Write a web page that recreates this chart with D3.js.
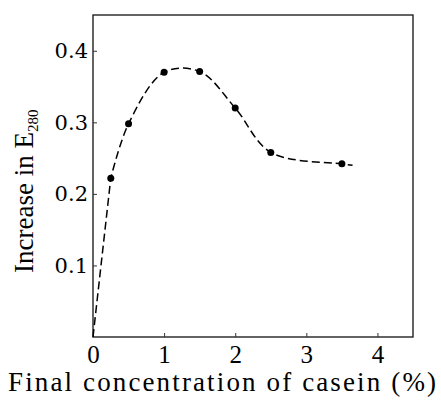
<!DOCTYPE html>
<html><head><meta charset="utf-8">
<script src="https://cdn.jsdelivr.net/npm/d3@7"></script>
<style>body{margin:0;background:#fff}svg{display:block}
.serif{font-family:"Liberation Serif","Times New Roman",serif}
.dserif{font-family:"DejaVu Serif",serif}</style>
</head><body>
<svg id="c" width="441" height="401"></svg>
<script>
// Data
const curveX = [0, 0.25, 0.5, 1.0, 1.5, 2.0, 2.5, 3.5, 3.65];
const curveY = [0, 0.222, 0.298, 0.370, 0.371, 0.320, 0.258, 0.242, 0.240];
const pointX = [0.25, 0.5, 1.0, 1.5, 2.0, 2.5, 3.5];
const pointY = [0.222, 0.298, 0.370, 0.371, 0.320, 0.258, 0.242];
const xTicks = [0, 1, 2, 3, 4];
const yTicks = [0.1, 0.2, 0.3, 0.4];
const yTickLabels = ["0.1", "0.2", "0.3", "0.4"];

const svg = d3.select("#c");
const x = d3.scaleLinear().domain([0, 4.5]).range([93, 413]);
const y = d3.scaleLinear().domain([0, 0.45]).range([337, 15]);

// frame
svg.append("rect").attr("x", 93).attr("y", 15).attr("width", 320).attr("height", 322)
  .attr("fill", "none").attr("stroke", "#222").attr("stroke-width", 1.4);

// axes with inward ticks
const xAxis = d3.axisBottom(x).tickValues(xTicks).tickSize(-4).tickFormat(d3.format("d")).tickPadding(8);
const gx = svg.append("g").attr("transform", "translate(0,337)").call(xAxis);
gx.attr("font-family", null).attr("font-size", null);
gx.select(".domain").remove();
gx.selectAll("line").attr("stroke", "#333");
gx.selectAll("text").attr("class", "serif").style("font-size", "25px")
  .attr("fill", "#000").attr("dy", "0.7em");

const yAxis = d3.axisLeft(y).tickValues(yTicks).tickSize(-4).tickPadding(5)
  .tickFormat((d, i) => yTickLabels[i]);
const gy = svg.append("g").attr("transform", "translate(93,0)").call(yAxis);
gy.attr("font-family", null).attr("font-size", null);
gy.select(".domain").remove();
gy.selectAll("line").attr("stroke", "#333");
gy.selectAll("text").attr("class", "dserif").style("font-size", "21px")
  .attr("fill", "#000");

// curve: straight rise from origin to first point, then smooth
const pts = curveX.map((v, i) => [v, curveY[i]]);
const lin = d3.line().x(d => x(d[0])).y(d => y(d[1]));
const smooth = d3.line().x(d => x(d[0])).y(d => y(d[1])).curve(d3.curveCatmullRom.alpha(0.5));
svg.append("path").attr("d", lin(pts.slice(0, 2)) + smooth(pts.slice(1)).replace(/^M[^A-Za-z]*/, ""))
  .attr("fill", "none").attr("stroke", "#000")
  .attr("stroke-width", 1.5).attr("stroke-dasharray", "8,4");

// points
svg.selectAll("circle.p").data(pointX.map((v, i) => [v, pointY[i]])).join("circle")
  .attr("class", "p").attr("cx", d => x(d[0])).attr("cy", d => y(d[1])).attr("r", 3.5).attr("fill", "#000");

// x title
svg.append("text").attr("class", "serif").attr("x", 8).attr("y", 391)
  .style("font-size", "27px").attr("textLength", 428).attr("lengthAdjust", "spacing")
  .text("Final concentration of casein (%)");

// y title
const yt = svg.append("text").attr("class", "serif").attr("transform", "translate(33,273) rotate(-90)")
  .style("font-size", "27px");
yt.append("tspan").text("Increase in E");
yt.append("tspan").style("font-size", "15px").attr("dy", 5).text("280");
</script>
</body></html>
